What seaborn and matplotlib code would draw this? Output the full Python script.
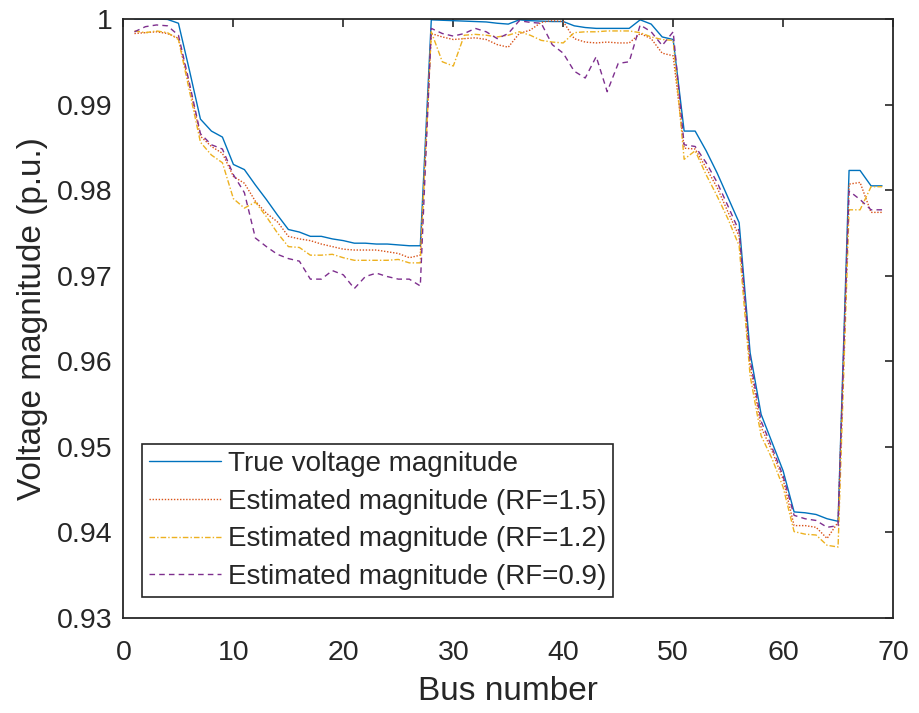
import matplotlib
matplotlib.use("Agg")
import matplotlib.pyplot as plt
import numpy as np
import pandas as pd
import seaborn as sns

# bus voltage profile, 69-bus feeder
bus = list(range(1, 70))

v_true = [1.0000, 1.0000, 0.99998, 0.99995, 0.9995, 0.9940, 0.9883, 0.9869, 0.9862, 0.9830,
          0.9824, 0.9806, 0.9789, 0.9771, 0.9754, 0.9751, 0.9746, 0.9746, 0.9743, 0.9741,
          0.9738, 0.9738, 0.9737, 0.9737, 0.9736, 0.9735, 0.9735, 0.9999, 0.99985, 0.9998,
          0.99975, 0.9997, 0.99965, 0.9995, 0.9994, 0.9999, 0.9998, 0.99975, 0.9997, 0.9997,
          0.9992, 0.9990, 0.9989, 0.9989, 0.9989, 0.9989, 0.9999, 0.9994, 0.9979, 0.9976,
          0.9869, 0.9869, 0.9846, 0.9820, 0.9791, 0.9762, 0.9610, 0.9538, 0.9505, 0.9472,
          0.9424, 0.9423, 0.9421, 0.9416, 0.9413, 0.9823, 0.9823, 0.9805, 0.9805]

v_rf15 = [0.9983, 0.9984, 0.9985, 0.9983, 0.99775, 0.9922, 0.9863, 0.9851, 0.9843, 0.9816,
          0.9808, 0.9787, 0.9773, 0.9763, 0.9746, 0.9743, 0.9741, 0.9737, 0.9734, 0.9731,
          0.9730, 0.9730, 0.9730, 0.9728, 0.9726, 0.9721, 0.9724, 0.9983, 0.9979, 0.9976,
          0.9977, 0.9978, 0.9976, 0.9970, 0.9967, 0.9983, 0.9987, 0.9996, 0.9998, 0.9997,
          0.9977, 0.9973, 0.9972, 0.9973, 0.9972, 0.9972, 0.9983, 0.9977, 0.9960, 0.9957,
          0.9849, 0.9848, 0.9826, 0.9803, 0.9774, 0.9746, 0.9595, 0.9523, 0.9495, 0.9462,
          0.9408, 0.9408, 0.9406, 0.9393, 0.9412, 0.9807, 0.9809, 0.9774, 0.9774]

v_rf12 = [0.9986, 0.9984, 0.9986, 0.9984, 0.9976, 0.9916, 0.9856, 0.9841, 0.9832, 0.9790,
          0.9779, 0.9786, 0.9769, 0.9750, 0.9734, 0.9733, 0.9724, 0.9724, 0.9725, 0.9721,
          0.9718, 0.9718, 0.9718, 0.9718, 0.9719, 0.9715, 0.9715, 0.9985, 0.9950, 0.9945,
          0.9981, 0.9982, 0.9981, 0.9979, 0.9981, 0.9985, 0.9981, 0.9975, 0.9973, 0.9972,
          0.9984, 0.9985, 0.9985, 0.9986, 0.9986, 0.9986, 0.9984, 0.9979, 0.9976, 0.9975,
          0.9836, 0.9846, 0.9818, 0.9793, 0.9766, 0.9735, 0.9583, 0.9513, 0.9486, 0.9453,
          0.9401, 0.9398, 0.9397, 0.9385, 0.9383, 0.9777, 0.9777, 0.9804, 0.9804]

v_rf09 = [0.9985, 0.9991, 0.9993, 0.9992, 0.9981, 0.9925, 0.9866, 0.9853, 0.9848, 0.9818,
          0.9797, 0.9744, 0.9734, 0.9725, 0.9720, 0.9717, 0.9696, 0.9696, 0.9706, 0.9701,
          0.9685, 0.9699, 0.9703, 0.9699, 0.9696, 0.9696, 0.9688, 0.9989, 0.9983, 0.9980,
          0.9983, 0.9989, 0.9985, 0.9977, 0.9983, 0.9998, 0.9996, 0.9995, 0.9970, 0.9960,
          0.9939, 0.9931, 0.9956, 0.9915, 0.9948, 0.9950, 0.9993, 0.9985, 0.9969, 0.9985,
          0.9853, 0.9851, 0.9832, 0.9809, 0.9781, 0.9752, 0.9602, 0.9530, 0.9499, 0.9466,
          0.9420, 0.9416, 0.9414, 0.9406, 0.9408, 0.9799, 0.9789, 0.9777, 0.9777]

labels = ["True voltage magnitude", "Estimated magnitude (RF=1.5)",
          "Estimated magnitude (RF=1.2)", "Estimated magnitude (RF=0.9)"]
colors = ["#0072BD", "#D95319", "#EDB120", "#7E2F8E"]
dash_styles = ["", (1, 1.2), (4, 1.5, 1, 1.5), (4, 3)]

df = pd.DataFrame({
    "bus": bus * 4,
    "v": v_true + v_rf15 + v_rf12 + v_rf09,
    "series": np.repeat(labels, len(bus)),
})

sns.set_style("white")
plt.rcParams["font.family"] = ["Liberation Sans", "DejaVu Sans"]
dark = "#262626"

fig, ax = plt.subplots(figsize=(9.2, 7.13), dpi=100)
fig.subplots_adjust(left=0.1342, right=0.9707, bottom=0.1332, top=0.9734)

sns.lineplot(data=df, x="bus", y="v", hue="series", style="series",
             palette=dict(zip(labels, colors)), dashes=dict(zip(labels, dash_styles)),
             linewidth=1.0, errorbar=None, ax=ax)

ax.set_xlim(0, 70)
ax.set_ylim(0.93, 1.0)
ax.set_xticks(range(0, 71, 10))
yt = [0.93, 0.94, 0.95, 0.96, 0.97, 0.98, 0.99, 1.0]
ax.set_yticks(yt)
ax.set_yticklabels(["0.93", "0.94", "0.95", "0.96", "0.97", "0.98", "0.99", "1"])
ax.tick_params(direction="in", length=6, width=1.2, top=True, right=True,
               labelsize=20.5, colors=dark, pad=8)
ax.tick_params(axis="x", pad=16)
for s in ax.spines.values():
    s.set_color(dark)
    s.set_linewidth(1.3)

ax.set_xlabel("Bus number", fontsize=24, color=dark, labelpad=7)
ax.set_ylabel("Voltage magnitude (p.u.)", fontsize=24, color=dark, labelpad=6)

h, l = ax.get_legend_handles_labels()
keep = [(hh, ll) for hh, ll in zip(h, l) if ll in labels]
leg = ax.legend([k[0] for k in keep], [k[1] for k in keep], loc="lower left",
                bbox_to_anchor=(0.024, 0.035), borderaxespad=0, fontsize=20,
                frameon=True, fancybox=False, edgecolor=dark, framealpha=1,
                borderpad=0.25, labelspacing=0.42, handlelength=2.6, handletextpad=0.25)
leg.get_frame().set_linewidth(1.2)

fig.savefig("out.png", dpi=100)
